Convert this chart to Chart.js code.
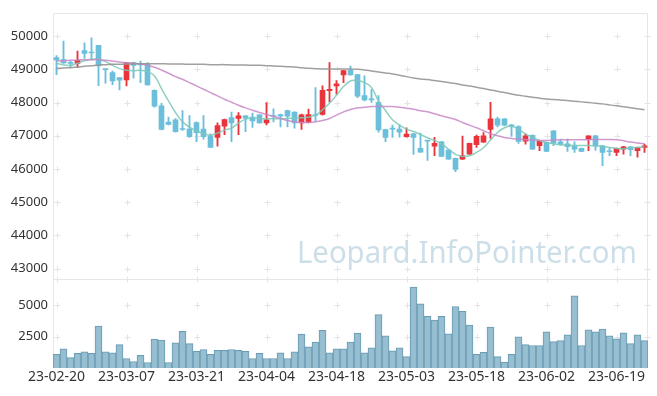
<!DOCTYPE html>
<html>
<head>
<meta charset="utf-8">
<script src="https://cdn.jsdelivr.net/npm/chart.js@4.4.1/dist/chart.umd.min.js"></script>
<style>
  html, body { margin: 0; padding: 0; background: #fff; }
</style>
</head>
<body>
<canvas id="chart" width="657" height="396"></canvas>
<script>
// trading days (yy-mm-dd)
const dates = [
  '23-02-20','23-02-21','23-02-22','23-02-23','23-02-24','23-02-27','23-02-28',
  '23-03-02','23-03-03','23-03-06','23-03-07','23-03-08','23-03-09','23-03-10',
  '23-03-13','23-03-14','23-03-15','23-03-16','23-03-17',
  '23-03-20','23-03-21','23-03-22','23-03-23','23-03-24',
  '23-03-27','23-03-28','23-03-29','23-03-30','23-03-31',
  '23-04-03','23-04-04','23-04-05','23-04-06','23-04-07',
  '23-04-10','23-04-11','23-04-12','23-04-13','23-04-14',
  '23-04-17','23-04-18','23-04-19','23-04-20','23-04-21',
  '23-04-24','23-04-25','23-04-26','23-04-27','23-04-28',
  '23-05-02','23-05-03','23-05-04',
  '23-05-08','23-05-09','23-05-10','23-05-11','23-05-12',
  '23-05-15','23-05-16','23-05-17','23-05-18','23-05-19',
  '23-05-22','23-05-23','23-05-24','23-05-25','23-05-26',
  '23-05-30','23-05-31',
  '23-06-01','23-06-02','23-06-05',
  '23-06-07','23-06-08','23-06-09',
  '23-06-12','23-06-13','23-06-14','23-06-15','23-06-16',
  '23-06-19','23-06-20','23-06-21','23-06-22','23-06-23'
];

const opens = [
  49350,49290,49200,49180,49560,49510,49720,49000,48900,48750,
  48680,49200,49150,49180,48370,47900,47410,47480,47210,47200,
  47400,47200,47000,46950,47290,47550,47520,47600,47560,47630,
  47390,47600,47640,47760,47710,47390,47400,47640,47640,48360,
  48500,48830,48970,48840,48210,48100,48010,47190,47220,47200,
  46970,47060,46620,46860,46690,46820,46570,46320,46300,46450,
  46730,46810,47190,47510,47510,47330,47280,46840,47010,46700,
  46800,47150,46820,46760,46700,46620,46880,47000,46700,46540,
  46500,46600,46670,46550,46650
];
const highs = [
  49410,49850,49250,49550,49800,49950,49720,49000,48950,48750,
  49200,49220,49250,49200,48380,47980,47560,47520,47760,47610,
  47420,47610,47060,47390,47500,47710,47700,47610,47680,47640,
  48000,47810,47650,47770,47720,47650,47800,48450,48500,49200,
  48660,48970,49100,48850,48800,48400,48210,47200,47320,47330,
  47240,47070,47080,46860,46950,46830,46580,46330,46990,46780,
  47020,47100,48010,47560,47520,47340,47300,47060,47030,46860,
  46810,47160,46900,46900,46820,46630,47000,47010,46710,46640,
  46630,46680,46680,46660,46750
];
const lows = [
  48840,49180,49050,49050,49330,49280,48510,48580,48540,48380,
  48500,48730,48600,48520,47860,47180,47330,47110,47160,46950,
  46820,46900,46640,46690,47030,46820,47030,47120,47250,47380,
  47330,47420,47270,47270,47230,47190,47390,47450,47620,48020,
  48250,48600,48820,48150,48050,48000,47110,46820,46950,46960,
  46960,46440,46500,46260,46400,46370,46290,45920,46290,46440,
  46650,46800,46920,47270,47300,46980,46770,46750,46590,46550,
  46520,46700,46720,46530,46500,46520,46550,46560,46100,46400,
  46400,46450,46400,46360,46500
];
const closes = [
  49280,49190,49180,49270,49480,49490,49100,48990,48650,48670,
  49200,49120,49130,48530,47890,47190,47340,47120,47190,46970,
  47090,46970,46650,47310,47490,47390,47600,47530,47450,47390,
  47480,47580,47590,47590,47390,47630,47640,47610,48370,48400,
  48560,48960,48830,48190,48080,48080,47180,46950,47200,47110,
  47050,46950,46510,46840,46770,46380,46300,45990,46400,46770,
  46980,47000,47510,47320,47320,47280,46830,47000,46600,46840,
  46530,46780,46740,46670,46600,46530,47000,46690,46500,46520,
  46620,46670,46580,46650,46700
];

// moving average lines
const ma5 = [
  49180,49130,49120,49180,49260,49300,49300,49230,49120,49020,
  48970,48960,48970,48930,48800,48420,48050,47700,47420,47260,
  47150,47060,47020,47080,47170,47230,47380,47500,47530,47520,
  47510,47510,47510,47520,47530,47540,47560,47620,47780,47980,
  48220,48480,48650,48660,48600,48450,48050,47760,47480,47320,
  47200,47130,47040,46940,46860,46760,46600,46440,46380,46400,
  46500,46640,46870,47100,47240,47290,47190,47060,46960,46860,
  46800,46760,46730,46720,46710,46710,46710,46700,46680,46650,
  46620,46610,46640,46650,46670
];
const ma20 = [
  49250,49260,49270,49280,49290,49290,49290,49270,49250,49220,
  49200,49180,49160,49120,49060,48980,48880,48780,48700,48600,
  48500,48400,48300,48200,48100,48010,47920,47840,47770,47700,
  47640,47580,47520,47460,47420,47400,47400,47420,47460,47520,
  47620,47720,47790,47840,47860,47880,47880,47880,47880,47860,
  47830,47800,47750,47720,47660,47600,47550,47490,47400,47320,
  47240,47150,47060,47000,46950,46920,46900,46880,46870,46860,
  46860,46870,46880,46880,46880,46880,46880,46890,46890,46890,
  46880,46850,46810,46780,46760
];
const ma60 = [
  49030,49040,49050,49070,49090,49110,49130,49140,49150,49150,
  49160,49160,49170,49170,49170,49170,49160,49160,49160,49150,
  49150,49150,49140,49140,49140,49130,49130,49130,49120,49120,
  49110,49100,49090,49080,49070,49050,49030,49020,49010,49010,
  49010,49010,49010,49000,48980,48950,48920,48890,48860,48820,
  48780,48740,48710,48690,48660,48630,48600,48570,48530,48500,
  48460,48420,48380,48340,48300,48260,48220,48190,48160,48130,
  48110,48090,48080,48060,48040,48020,48000,47980,47960,47930,
  47900,47870,47840,47810,47780
];

const volumes = [
  1090,1540,830,1170,1300,1170,3360,1300,1220,1870,
  760,520,1020,440,2320,2240,440,2010,2940,1950,
  1330,1480,1090,1410,1410,1480,1410,1330,760,1170,
  760,760,1220,760,1300,2710,1690,2080,3020,1220,
  1540,1540,2080,2790,1220,1610,4270,2580,1380,1610,
  910,6480,5130,4140,3830,4140,2730,4920,4530,3440,
  1090,1250,3280,910,470,1090,2500,1870,1800,1800,
  2890,2110,2190,2660,5780,1800,3050,2890,3120,2580,
  2340,2810,1950,2660,2190
];

const priceTicks = [43000, 44000, 45000, 46000, 47000, 48000, 49000, 50000];
const volTicks = [2500, 5000];

const upColor = '#e9343b';
const downColor = '#6bbfdb';
const candleColors = closes.map((c, i) => c > opens[i] ? upColor : downColor);
const wicks = lows.map((l, i) => [l, highs[i]]);
const bodies = opens.map((o, i) => [o, closes[i]]);

const tickFont = { family: '"Noto Sans", sans-serif', size: 13 };

// grid crosses, frame and watermark
const decor = {
  id: 'decor',
  beforeDatasetsDraw(chart) {
    const { ctx, chartArea: a, scales } = chart;
    const sep = Math.round(scales.y.bottom) + 0.5;
    ctx.save();

    ctx.font = '30px "Noto Sans", sans-serif';
    ctx.fillStyle = 'rgba(170,202,218,0.6)';
    ctx.textAlign = 'right';
    ctx.textBaseline = 'alphabetic';
    ctx.fillText('Leopard.InfoPointer.com', 637, 263, 340);

    const xs = [];
    for (let i = 0; i < dates.length; i += 10) xs.push(Math.round(scales.x.getPixelForValue(i)) + 0.5);
    xs.push(Math.round(a.right) - 0.5);
    const ys = priceTicks.map(v => scales.y.getPixelForValue(v))
      .concat(volTicks.map(v => scales.yv.getPixelForValue(v)))
      .map(v => Math.round(v) + 0.5);
    ctx.strokeStyle = '#e4e4e4';
    ctx.lineWidth = 1;
    ctx.beginPath();
    xs.forEach(x => ys.concat([sep]).forEach(y => {
      ctx.moveTo(x - 3, y); ctx.lineTo(x + 3, y);
      ctx.moveTo(x, y - 3); ctx.lineTo(x, y + 3);
    }));
    ctx.stroke();

    ctx.strokeStyle = '#e6e6e6';
    ctx.beginPath();
    const l = Math.round(a.left) + 0.5, r = Math.round(a.right) - 0.5;
    const t = Math.round(a.top) + 0.5, b = Math.round(a.bottom) - 0.5;
    ctx.moveTo(l, t); ctx.lineTo(r, t);
    ctx.moveTo(l, t); ctx.lineTo(l, b);
    ctx.moveTo(r, t); ctx.lineTo(r, b);
    ctx.moveTo(l, sep); ctx.lineTo(r, sep);
    ctx.stroke();
    ctx.restore();
  }
};

new Chart(document.getElementById('chart'), {
  data: {
    labels: dates,
    datasets: [
      { type: 'line', data: ma60, borderColor: 'rgba(150,150,150,0.9)', borderWidth: 1.5,
        pointRadius: 0, tension: 0.4, yAxisID: 'y', order: 0 },
      { type: 'line', data: ma20, borderColor: 'rgba(200,135,200,0.85)', borderWidth: 1.5,
        pointRadius: 0, tension: 0.4, yAxisID: 'y', order: 0 },
      { type: 'line', data: ma5, borderColor: 'rgba(125,200,185,0.85)', borderWidth: 1.5,
        pointRadius: 0, tension: 0.4, yAxisID: 'y', order: 0 },
      { type: 'bar', data: bodies, backgroundColor: candleColors, barThickness: 5,
        minBarLength: 1, grouped: false, yAxisID: 'y', order: 1 },
      { type: 'bar', data: wicks, backgroundColor: candleColors, barThickness: 1.2,
        grouped: false, yAxisID: 'y', order: 2 },
      { type: 'bar', data: volumes, backgroundColor: 'rgba(145,188,207,0.95)',
        borderColor: '#6a9cb4', borderWidth: 1, barPercentage: 1, categoryPercentage: 1,
        grouped: false, yAxisID: 'yv', order: 3 }
    ]
  },
  options: {
    responsive: false,
    animation: false,
    layout: { padding: { top: 10, right: 9, left: 0, bottom: 0 } },
    plugins: { legend: { display: false }, tooltip: { enabled: false } },
    scales: {
      x: {
        type: 'category',
        offset: true,
        grid: { display: false, drawTicks: false },
        border: { display: false },
        ticks: {
          autoSkip: false, maxRotation: 0, padding: 1, color: '#333',
          font: { family: '"Noto Sans", sans-serif', size: 14 },
          callback: function (v, i) { return i % 10 === 0 ? this.getLabelForValue(v) : ''; }
        },
        afterFit: s => { s.height = 28; }
      },
      yv: {
        stack: 'panes', stackWeight: 90, position: 'left',
        min: 0, max: 7140,
        afterBuildTicks: s => { s.ticks = volTicks.map(v => ({ value: v })); },
        grid: { display: false, drawTicks: false },
        border: { display: false },
        ticks: { padding: 5, color: '#333', font: tickFont, callback: v => String(v) },
        afterFit: s => { s.width = 53; }
      },
      y: {
        stack: 'panes', stackWeight: 268, position: 'left',
        min: 42700, max: 50700,
        afterBuildTicks: s => { s.ticks = priceTicks.map(v => ({ value: v })); },
        grid: { display: false, drawTicks: false },
        border: { display: false },
        ticks: { padding: 5, color: '#333', font: tickFont, callback: v => String(v) },
        afterFit: s => { s.width = 53; }
      }
    }
  },
  plugins: [decor]
});
</script>
</body>
</html>
